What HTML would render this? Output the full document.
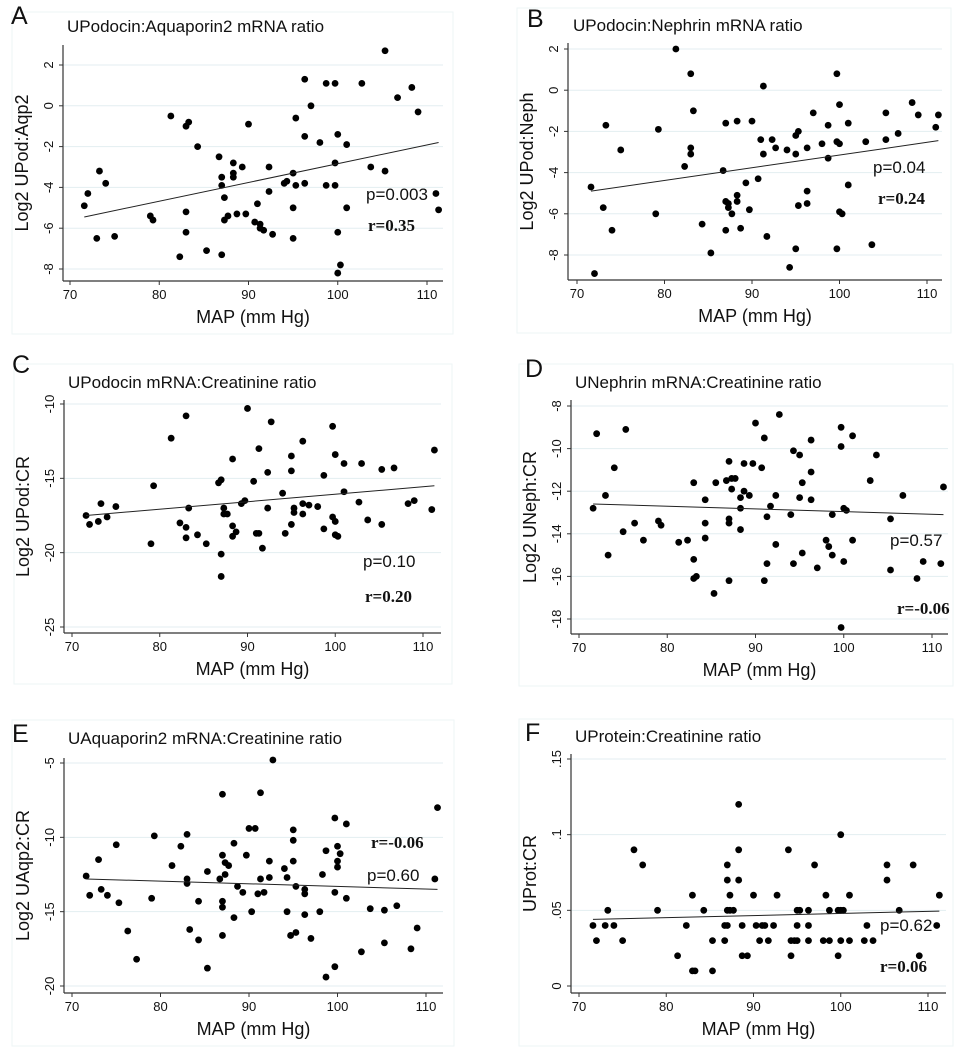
<!DOCTYPE html>
<html><head><meta charset="utf-8">
<style>
html,body{margin:0;padding:0;background:#fff;}
svg{display:block;font-family:"Liberation Sans",sans-serif;}
</style></head>
<body>
<svg id="chart" width="963" height="1050" viewBox="0 0 963 1050" xmlns="http://www.w3.org/2000/svg"></svg>
<script>
// Panel A data
const aX=[71.6,72,73,73.3,74,75,79,79.3,81.3,82.3,83,83.3,83,83,84.3,85.3,86.7,87,87,87,87.3,87.3,87.7,88.3,88.3,88.3,88.7,89.3,89.7,90,90.7,91,91.3,91.3,91.7,92.3,92.3,92.7,94,94.3,95,95,95,95.3,95.3,96.3,96.3,96.3,97,98,98.7,98.7,99.7,99.7,99.7,100,100,100,100.3,101,101,102.7,103.7,105.3,105.3,106.7,108.3,109,111,111.3];
const aY=[-4.9,-4.3,-6.5,-3.2,-3.8,-6.4,-5.4,-5.6,-0.5,-7.4,-1,-0.8,-5.2,-6.2,-2,-7.1,-2.5,-3.5,-3.9,-7.3,-4.5,-5.6,-5.4,-2.8,-3.3,-3.5,-5.3,-3,-5.3,-0.9,-5.7,-4.8,-5.8,-6,-6.1,-3,-4.2,-6.3,-3.8,-3.7,-3.3,-5,-6.5,-0.6,-3.9,1.3,-1.5,-3.8,0,-1.8,1.1,-3.9,1.1,-2.8,-3.9,-1.4,-6.2,-8.2,-7.8,-1.9,-5,1.1,-3,2.7,-3.2,0.4,0.9,-0.3,-4.3,-5.1];
const aFit=[[71.6,-5.45],[111.3,-1.8]];
const aTicks=[2,0,-2,-4,-6,-8];
// Panel B data
const bX=[71.6,72,73,73.3,74,75,79,79.3,81.3,82.3,83,83,83,83.3,84.3,85.3,86.7,87,87,87,87.3,87.3,87.7,88.3,88.3,88.3,88.7,89.3,89.7,90,90.7,91,91.3,91.3,91.7,92.3,92.7,94,94.3,95,95,95,95.3,95.3,96.3,96.3,96.3,97,98,98.7,98.7,99.7,99.7,99.7,100,100,100,100.3,101,101,103,103.7,105.3,105.3,106.7,108.3,109,111,111.3];
const bY=[-4.7,-8.9,-5.7,-1.7,-6.8,-2.9,-6,-1.9,2,-3.7,0.8,-2.8,-3.1,-1,-6.5,-7.9,-3.9,-1.6,-5.4,-6.8,-5.5,-5.7,-6,-1.5,-5.1,-5.4,-6.7,-4.5,-5.8,-1.5,-4.3,-2.4,0.2,-3.1,-7.1,-2.4,-2.8,-2.9,-8.6,-2.2,-3.1,-7.7,-2,-5.6,-2.8,-4.9,-5.5,-1.1,-2.6,-1.7,-3.3,0.8,-2.5,-7.7,-0.7,-2.6,-5.9,-6,-1.6,-4.6,-2.5,-7.5,-1.1,-2.4,-2.1,-0.6,-1.2,-1.8,-1.2];
const bFit=[[71.6,-4.9],[111.3,-2.45]];
const bTicks=[2,0,-2,-4,-6,-8];
// Panel C data
const cX=[71.6,72,73,73.3,74,75,79,79.3,81.3,82.3,83,83,83,83.3,84.3,85.3,86.7,87,87,87,87.3,87.3,87.7,88.3,88.3,88.3,88.7,89.3,89.7,90,90.7,91,91.3,91.3,91.7,92.3,92.3,92.7,94,94.3,95,95,95,95.3,95.3,96.3,96.3,96.3,97,98,98.7,98.7,99.7,99.7,100,100,100,100.3,101,101,102.7,103,103.7,105.3,105.3,106.7,108.3,109,111,111.3];
const cY=[-17.5,-18.1,-17.9,-16.7,-17.6,-16.9,-19.4,-15.5,-12.3,-18,-10.8,-18.3,-19,-17,-18.8,-19.4,-15.3,-15.1,-20.1,-21.6,-17,-17.4,-17.4,-13.7,-18.2,-18.9,-18.6,-16.7,-16.5,-10.3,-15.2,-18.7,-13,-18.7,-19.7,-14.6,-17,-11.2,-16,-18.7,-13.5,-14.5,-18.1,-17,-17.3,-12.5,-16.7,-17.4,-16.8,-16.9,-14.8,-18.4,-11.5,-17.6,-13.4,-17.9,-18.8,-18.9,-14,-15.9,-16.6,-14,-17.8,-14.4,-18.1,-14.3,-16.7,-16.5,-17.1,-13.1];
const cFit=[[71.6,-17.5],[111.3,-15.5]];
const cTicks=[-10,-15,-20,-25];
// Panel D data
const dX=[71.6,72,73,73.3,74,75,75.3,76.3,77.3,79,79.3,81.3,82.3,83,83,83,83.3,84.3,84.3,84.3,85.3,85.5,86.7,87,87,87,87,87.3,87.3,87.7,88.3,88.3,88.3,88.7,88.7,89.3,89.7,90,90.7,91,91,91.3,91.3,91.7,92.3,92.3,92.7,94,94.3,94.3,95,95,95.3,95.3,96.3,96.3,96.3,97,98,98.3,98.7,98.7,99.7,99.7,99.7,100,100,100.3,101,101,103,103.7,105.3,105.3,106.7,108.3,109,111,111.3];
const dY=[-12.8,-9.3,-12.2,-15,-10.9,-13.9,-9.1,-13.5,-14.3,-13.4,-13.6,-14.4,-14.3,-11.6,-15.2,-16.1,-16,-12.4,-13.5,-14.2,-16.8,-11.6,-11.5,-10.6,-13.3,-13.5,-16.2,-11.4,-11.9,-11.4,-12.3,-12.8,-13.8,-10.7,-12,-12.2,-10.7,-8.8,-10.9,-9.5,-16.2,-13.2,-15.4,-12.7,-12.2,-14.5,-8.4,-13.1,-10.1,-15.4,-10.3,-12.3,-11.6,-14.9,-9.6,-11.1,-12.4,-15.6,-14.3,-14.6,-13.1,-15,-9,-9.9,-18.4,-12.8,-15.3,-12.9,-9.4,-14.3,-11.5,-10.3,-13.3,-15.7,-12.2,-16.1,-15.3,-15.4,-11.8];
const dFit=[[71.6,-12.6],[111.3,-13.1]];
const dTicks=[-8,-10,-12,-14,-16,-18];
// Panel E data
const eX=[71.6,72,73,73.3,74,75,75.3,76.3,77.3,79,79.3,81.3,82.3,83,83,83,83.3,84.3,84.3,85.3,85.3,86.7,87,87,87,87,87,87.3,87.3,87.7,88.3,88.3,88.7,89.3,89.7,90,90.3,90.7,91,91.3,91.3,91.7,92.3,92.3,92.7,94,94.3,94.3,94.7,95,95,95,95.3,95.3,96.3,96.3,96.3,97,98,98.3,98.7,98.7,99.7,99.7,99.7,100,100,100,100.3,101,101,102.7,103.7,105.3,105.3,106.7,108.3,109,111,111.3];
const eY=[-12.6,-13.9,-11.5,-13.5,-13.9,-10.5,-14.4,-16.3,-18.2,-14.1,-9.9,-11.9,-10.6,-9.8,-12.8,-13.1,-16.2,-14.3,-16.9,-12.3,-18.8,-12.8,-7.1,-11.2,-14.3,-14.7,-16.6,-11.7,-12.5,-11.9,-10.4,-15.4,-13.3,-13.7,-11.2,-9.4,-15,-9.4,-13.8,-7,-12.8,-13.7,-11.6,-12.7,-4.8,-12.1,-12.7,-15,-16.6,-9.5,-10.2,-11.6,-13.3,-16.4,-13.5,-13.8,-15.2,-16.8,-15,-12.5,-10.9,-19.4,-8.7,-13.7,-18.7,-10.6,-11.6,-12,-11.1,-9.1,-14.1,-17.7,-14.8,-14.9,-17.1,-14.6,-17.5,-16.1,-12.8,-8];
const eFit=[[71.6,-12.8],[111.3,-13.5]];
const eTicks=[-5,-10,-15,-20];
// Panel F data
const fX=[71.6,72,73,73.3,74,75,76.3,77.3,79,81.3,82.3,83,83,83.3,84.3,85.3,85.3,86.7,86.7,87,87,87,87,87.3,87.3,87.7,88.3,88.3,88.3,88.7,88.7,89.3,90,90.3,90.7,91,91.3,91.7,92.3,92.7,94,94.3,94.3,94.7,95,95,95,95.3,96.3,96.3,96.3,97,98,98.3,98.7,98.7,99.7,99.7,100,100,100,100.3,101,101,102.7,103,103.7,105.3,105.3,106.7,108.3,109,111,111.3];
const fY=[.04,.03,.04,.05,.04,.03,.09,.08,.05,.02,.04,.06,.01,.01,.05,.03,.01,.03,.04,.08,.07,.05,.04,.06,.05,.05,.12,.09,.07,.04,.02,.02,.06,.04,.03,.04,.04,.03,.04,.06,.09,.03,.02,.03,.05,.04,.03,.05,.05,.04,.03,.08,.03,.06,.05,.03,.05,.02,.1,.05,.03,.05,.06,.03,.03,.04,.03,.08,.07,.05,.08,.02,.04,.06];
const fFit=[[71.6,.044],[111.3,.0495]];
const fTicks=[.15,.1,.05,0];
const fTickLabels=[".15",".1",".05","0"];
const xTicks=[70,80,90,100,110];

const NS="http://www.w3.org/2000/svg";
const svg=document.getElementById('chart');
function mk(tag,attrs,parent,text){
  const e=document.createElementNS(NS,tag);
  for(const k in attrs)e.setAttribute(k,attrs[k]);
  if(text!==undefined)e.textContent=text;
  parent.appendChild(e);return e;
}
function panel(o){
  const g=mk('g',{},svg);
  
  
  const sx=v=>o.x0+(v-70)*(o.x1-o.x0)/40;
  const sy=v=>o.yA+(v-o.vA)*(o.yB-o.yA)/(o.vB-o.vA);
  const fr=mk('rect',{x:o.fx,y:o.fy,width:o.fw,height:o.fh,fill:'none',stroke:'#eef4f6','stroke-width':1},g);
  
  
  const L=mk('text',{x:o.lx,y:o.ly,'font-size':25,fill:'#111'},g,o.id);
  
  
  const T=mk('text',{x:o.tx,y:o.ty,'font-size':17,fill:'#111'},g,o.title);
  
  
  o.yt.forEach((v,i)=>{
    const y=sy(v);
    const gl=mk('line',{x1:o.left,x2:o.right,y1:y,y2:y,stroke:'#e3eef1','stroke-width':1},g);
    
    
    mk('line',{x1:o.left-4,x2:o.left,y1:y,y2:y,stroke:'#333','stroke-width':1},g);
    const lab=o.ytl?o.ytl[i]:String(v);
    const t=mk('text',{x:o.left-10,y:y,'font-size':13,fill:'#111','text-anchor':'middle',transform:`rotate(-90 ${o.left-10} ${y})`},g,lab);
    
    
  });
  xTicks.forEach(v=>{
    const x=sx(v);
    mk('line',{x1:x,x2:x,y1:o.bottom,y2:o.bottom+4,stroke:'#333','stroke-width':1},g);
    const t=mk('text',{x:x,y:o.bottom+18,'font-size':13,fill:'#111','text-anchor':'middle'},g,String(v));
    
    
  });
  mk('line',{x1:o.left,x2:o.left,y1:o.top,y2:o.bottom,stroke:'#333','stroke-width':1.2},g);
  mk('line',{x1:o.left,x2:o.right,y1:o.bottom,y2:o.bottom,stroke:'#333','stroke-width':1.2},g);
  const xt=mk('text',{x:(o.left+o.right)/2,y:o.bottom+42,'font-size':18,fill:'#111','text-anchor':'middle'},g,'MAP (mm Hg)');
  
  
  const yc=(o.top+o.bottom)/2, yx=o.left-35;
  const yt=mk('text',{x:yx,y:yc,'font-size':18,fill:'#111','text-anchor':'middle',transform:`rotate(-90 ${yx} ${yc})`},g,o.ytitle);
  
  
  o.xs.forEach((xv,i)=>{
    const c=mk('circle',{cx:sx(xv),cy:sy(o.ys[i]),r:3.4,fill:'#000'},g);
    
    
  });
  const fl=mk('line',{x1:sx(o.fit[0][0]),y1:sy(o.fit[0][1]),x2:sx(o.fit[1][0]),y2:sy(o.fit[1][1]),stroke:'#222','stroke-width':1},g);
  
  
  const p=mk('text',{x:o.px,y:o.py,'font-size':17,fill:'#111'},g,o.p);
  
  
  const r=mk('text',{x:o.rx,y:o.ry,'font-size':17,'font-weight':'bold','font-family':'"Liberation Serif",serif',fill:'#111'},g,o.r);
  
  
}
panel({id:'A',title:'UPodocin:Aquaporin2 mRNA ratio',ytitle:'Log2 UPod:Aqp2',xs:aX,ys:aY,fit:aFit,yt:aTicks,
 x0:70,x1:427,yA:65,vA:2,yB:269,vB:-8,left:63,right:443,top:45,bottom:281,fx:12,fy:12,fw:441,fh:322,
 lx:11,ly:24,tx:67,ty:32,px:366,py:200,p:'p=0.003',rx:368,ry:231,r:'r=0.35'});
panel({id:'B',title:'UPodocin:Nephrin mRNA ratio',ytitle:'Log2 UPod:Neph',xs:bX,ys:bY,fit:bFit,yt:bTicks,
 x0:577,x1:927,yA:49,vA:2,yB:255,vB:-8,left:568,right:942,top:43,bottom:280,fx:517,fy:8,fw:434,fh:325,
 lx:527,ly:27,tx:573,ty:31,px:873,py:173,p:'p=0.04',rx:878,ry:204,r:'r=0.24'});
panel({id:'C',title:'UPodocin mRNA:Creatinine ratio',ytitle:'Log2 UPod:CR',xs:cX,ys:cY,fit:cFit,yt:cTicks,
 x0:72,x1:423,yA:404,vA:-10,yB:627,vB:-25,left:64,right:441,top:400,bottom:633,fx:14,fy:364,fw:438,fh:320,
 lx:12,ly:373,tx:68,ty:388,px:363,py:567,p:'p=0.10',rx:365,ry:602,r:'r=0.20'});
panel({id:'D',title:'UNephrin mRNA:Creatinine ratio',ytitle:'Log2 UNeph:CR',xs:dX,ys:dY,fit:dFit,yt:dTicks,
 x0:579,x1:932,yA:406,vA:-8,yB:619,vB:-18,left:571,right:948,top:400,bottom:634,fx:519,fy:364,fw:434,fh:322,
 lx:525,ly:377,tx:575,ty:388,px:890,py:546,p:'p=0.57',rx:897,ry:614,r:'r=-0.06'});
panel({id:'E',title:'UAquaporin2 mRNA:Creatinine ratio',ytitle:'Log2 UAqp2:CR',xs:eX,ys:eY,fit:eFit,yt:eTicks,
 x0:72,x1:426,yA:763,vA:-5,yB:986,vB:-20,left:64,right:443,top:758,bottom:993,fx:12,fy:720,fw:442,fh:326,
 lx:12,ly:742,tx:68,ty:744,px:367,py:881,p:'p=0.60',rx:371,ry:848,r:'r=-0.06'});
panel({id:'F',title:'UProtein:Creatinine ratio',ytitle:'UProt:CR',xs:fX,ys:fY,fit:fFit,yt:fTicks,ytl:fTickLabels,
 x0:579,x1:928,yA:759,vA:.15,yB:986,vB:0,left:571,right:946,top:754,bottom:993,fx:519,fy:719,fw:434,fh:327,
 lx:525,ly:741,tx:575,ty:742,px:880,py:931,p:'p=0.62',rx:880,ry:972,r:'r=0.06'});
</script>
</body></html>
